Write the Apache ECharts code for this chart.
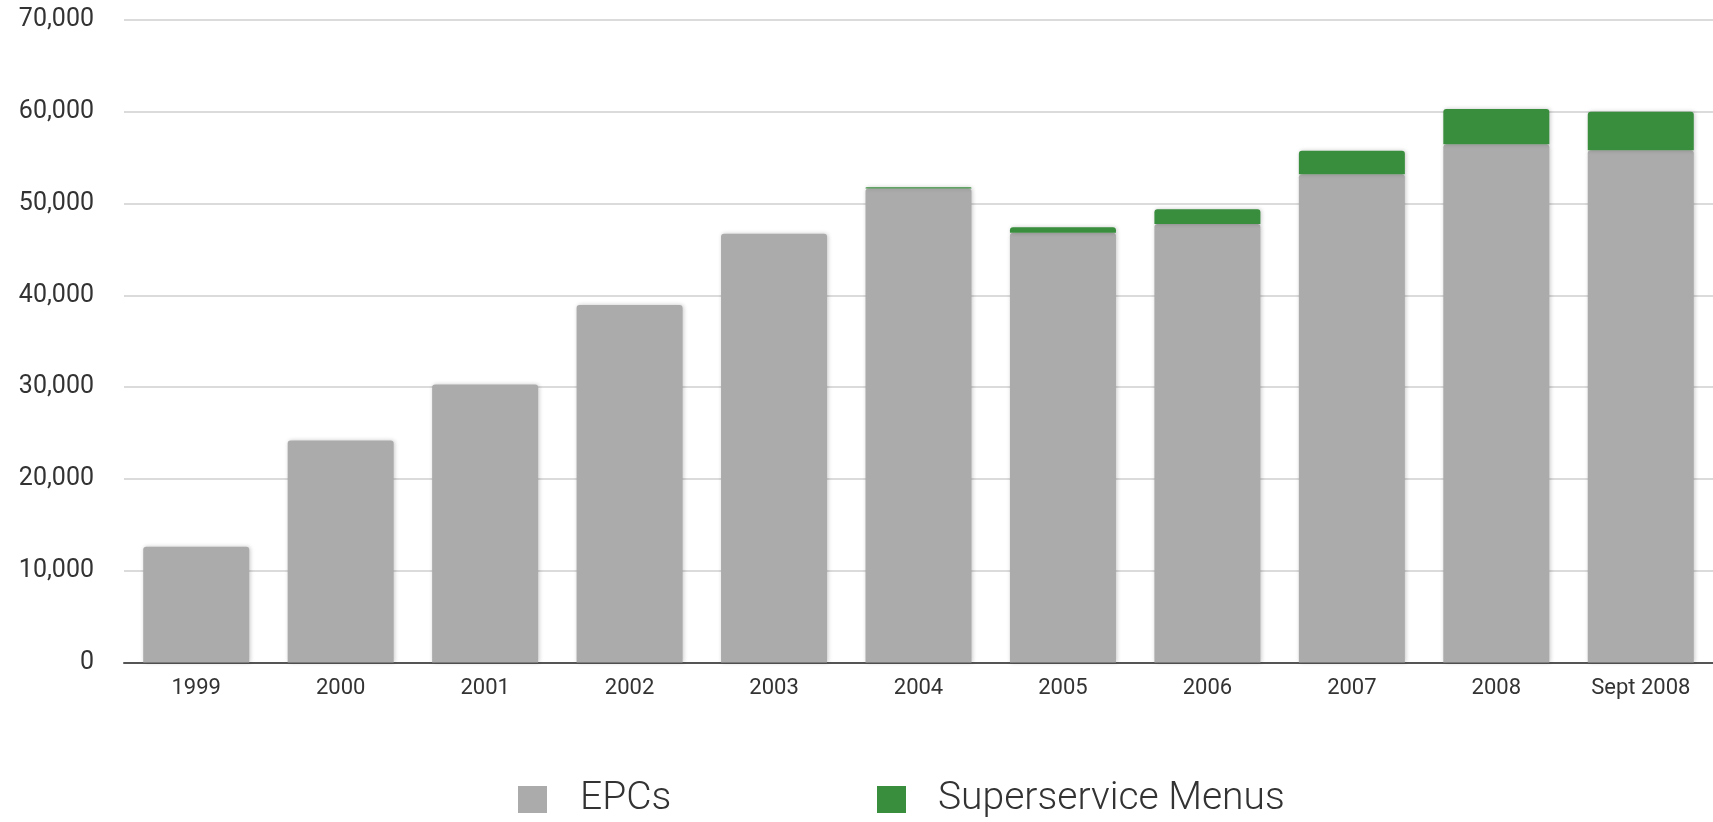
<!DOCTYPE html>
<html>
<head>
<meta charset="utf-8">
<script src="https://cdn.jsdelivr.net/npm/echarts@6/dist/echarts.min.js"></script>
<style>
html,body{margin:0;padding:0;background:#fff;}
#chart{width:1713px;height:822px;}
</style>
</head>
<body>
<div id="chart"></div>
<script>
var categories = ['1999','2000','2001','2002','2003','2004','2005','2006','2007','2008','Sept 2008'];
var epcs = [12600, 24200, 30300, 38950, 46700, 51650, 46820, 47780, 53200, 56450, 55800];
var menus = [0, 0, 0, 0, 0, 120, 590, 1600, 2560, 3840, 4200];
var yTicks = {min: 0, max: 70000, interval: 10000};

var chart = echarts.init(document.getElementById('chart'), null, {renderer: 'canvas'});
var shadow = {shadowBlur: 4, shadowColor: 'rgba(0,0,0,0.22)', shadowOffsetX: 1, shadowOffsetY: 0};
var legendText = {fontFamily: 'Roboto', fontWeight: 300, fontSize: 39, color: '#333'};
chart.setOption({
  backgroundColor: '#ffffff',
  animation: false,
  grid: {left: 124, right: -8, top: 20, bottom: 159.5, containLabel: false},
  legend: [
    {data: ['EPCs'], left: 513, top: 775, itemWidth: 29, itemHeight: 27, icon: 'rect',
     textStyle: Object.assign({padding: [0,0,0,28]}, legendText)},
    {data: ['Superservice Menus'], left: 872, top: 775, itemWidth: 29, itemHeight: 27, icon: 'rect',
     textStyle: Object.assign({padding: [0,0,0,27]}, legendText)}
  ],
  xAxis: {
    type: 'category',
    data: categories,
    axisLine: {lineStyle: {color: '#555', width: 2}},
    axisTick: {show: false},
    axisLabel: {fontFamily: 'Roboto', fontSize: 22, color: '#333', margin: 15}
  },
  yAxis: {
    type: 'value',
    min: yTicks.min, max: yTicks.max, interval: yTicks.interval,
    axisLine: {show: false},
    axisTick: {show: false},
    splitLine: {lineStyle: {color: '#cfcfcf', width: 1.5}},
    axisLabel: {fontFamily: 'Roboto', fontSize: 25, color: '#333', margin: 30,
      formatter: function (v) { return v.toLocaleString('en-US'); }}
  },
  series: [
    {name: 'EPCs', type: 'bar', stack: 'total', data: epcs, barWidth: 106,
     itemStyle: Object.assign({color: '#ababab', borderRadius: [3,3,0,0]}, shadow)},
    {name: 'Superservice Menus', type: 'bar', stack: 'total', data: menus, barWidth: 106,
     itemStyle: Object.assign({color: '#388e3c', borderRadius: [3,3,0,0]}, shadow)}
  ]
});
</script>
</body>
</html>
